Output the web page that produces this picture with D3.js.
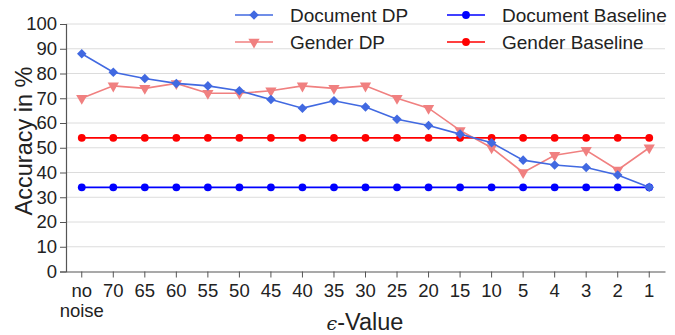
<!DOCTYPE html>
<html><head><meta charset="utf-8">
<script src="https://cdn.jsdelivr.net/npm/d3@7"></script>
<style>body{margin:0;background:#fff}svg{display:block;font-family:"Liberation Sans",Arial,sans-serif}</style>
</head><body><svg id="c" width="675" height="335"></svg>
<script>
const categories = ["no noise","70","65","60","55","50","45","40","35","30","25","20","15","10","5","4","3","2","1"];
const documentDP = [88,80.5,78,76,75,73,69.5,66,69,66.5,61.5,59,55.5,52,45,43,42,39,34];
const genderDP = [70,75,74,76,72,72,73,75,74,75,70,66,57,50,40,47,49,41,50];
const documentBaseline = [34,34,34,34,34,34,34,34,34,34,34,34,34,34,34,34,34,34,34];
const genderBaseline = [54,54,54,54,54,54,54,54,54,54,54,54,54,54,54,54,54,54,54];
const yTicks = [0,10,20,30,40,50,60,70,80,90,100];

const svg = d3.select("#c");
const x = d3.scaleBand().domain(categories).range([66,665]);
const y = d3.scaleLinear().domain([0,100]).range([271.5,24]);
const cx = c => x(c) + x.bandwidth()/2;

// gridlines
svg.append("g").selectAll("line").data(yTicks.filter(d=>d>0)).join("line")
  .attr("x1",66).attr("x2",665).attr("y1",d=>y(d)).attr("y2",d=>y(d))
  .attr("stroke","#dcdcdc").attr("stroke-width",1);

// y axis
const ya = svg.append("g").attr("transform","translate(66,0)")
  .call(d3.axisLeft(y).tickValues(yTicks).tickSize(6).tickPadding(3));
ya.select(".domain").attr("stroke","#555").attr("stroke-width",1.2);
ya.selectAll(".tick line").attr("stroke","#555");
ya.selectAll("text").attr("font-size",18.5).attr("fill","#222").attr("font-family","Liberation Sans, Arial, sans-serif");

// x axis
const xa = svg.append("g").attr("transform","translate(0,271.5)")
  .call(d3.axisBottom(x).tickSize(6).tickPadding(6).tickSizeOuter(0));
xa.select(".domain").attr("stroke","#555").attr("stroke-width",1.2);
xa.selectAll(".tick line").attr("stroke","#555");
xa.selectAll("text").attr("font-size",18.5).attr("fill","#222").attr("font-family","Liberation Sans, Arial, sans-serif")
  .each(function(d){
    if(d==="no noise"){
      const t=d3.select(this); t.text(null);
      t.append("tspan").attr("x",0).attr("dy","0.71em").text("no");
      t.append("tspan").attr("x",0).attr("dy","1.1em").text("noise");
      t.attr("dy",null);
    }
  });

// titles
svg.append("text").attr("transform","translate(32,141) rotate(-90)").attr("text-anchor","middle")
  .attr("font-size",23.5).attr("fill","#222").text("Accuracy in %");
const xt = svg.append("text").attr("x",365).attr("y",330).attr("text-anchor","middle").attr("font-size",23.5).attr("fill","#222");
xt.append("tspan").attr("font-style","italic").attr("font-family","DejaVu Serif, serif").attr("font-size",19).text("\u03F5");
xt.append("tspan").text("-Value");

const series = [
  {name:"Document Baseline", vals:documentBaseline, color:"#0000ff", marker:"circle", size:48},
  {name:"Gender Baseline", vals:genderBaseline, color:"#ff0000", marker:"circle", size:48},
  {name:"Gender DP", vals:genderDP, color:"#f08080", marker:"tri", size:55},
  {name:"Document DP", vals:documentDP, color:"#4169e1", marker:"diamond", size:58},
];
function sym(s){
  if(s.marker==="circle") return d3.symbol(d3.symbolCircle, s.size)();
  if(s.marker==="diamond") return d3.symbol(d3.symbolDiamond2, s.size)();
  return d3.symbol(d3.symbolTriangle, s.size)();
}
const line = d3.line().x((d,i)=>cx(categories[i])).y(d=>y(d));
series.forEach(s=>{
  const g = svg.append("g");
  g.append("path").datum(s.vals).attr("d",line).attr("fill","none").attr("stroke",s.color).attr("stroke-width",1.6);
  g.selectAll("path.m").data(s.vals).join("path").attr("class","m")
    .attr("d",sym(s))
    .attr("transform",(d,i)=>`translate(${cx(categories[i])},${y(d)})${s.marker==="tri"?" rotate(180)":""}`)
    .attr("fill",s.color);
});

// legend
const legend = [
  {s:series[3], x:235, y:15},
  {s:series[2], x:235, y:42},
  {s:series[0], x:447, y:15},
  {s:series[1], x:447, y:42},
];
legend.forEach(l=>{
  const g = svg.append("g");
  g.append("line").attr("x1",l.x).attr("x2",l.x+38).attr("y1",l.y).attr("y2",l.y).attr("stroke",l.s.color).attr("stroke-width",1.6);
  g.append("path").attr("d",sym(l.s)).attr("transform",`translate(${l.x+19},${l.y})${l.s.marker==="tri"?" rotate(180)":""}`).attr("fill",l.s.color);
  g.append("text").attr("x",l.x+55).attr("y",l.y).attr("dy","0.35em").attr("font-size",19).attr("fill","#222").text(l.s.name);
});
</script></body></html>
